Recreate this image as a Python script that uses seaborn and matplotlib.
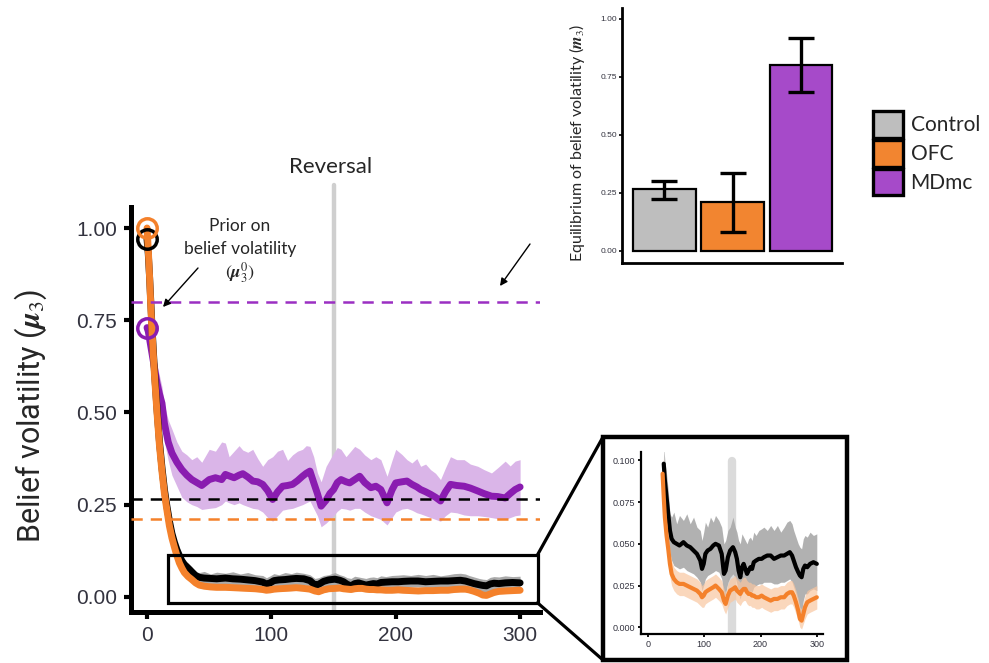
import numpy as np
import pandas as pd
import matplotlib
matplotlib.use("Agg")
import matplotlib.pyplot as plt
import seaborn as sns
from matplotlib.patches import Rectangle, Patch, ConnectionPatch

# ---------------- data ----------------
trials_cb = [0, 1, 2, 3, 4, 5, 6, 8, 10, 12,
             14, 16, 18, 20, 22, 24, 26, 28, 30, 33,
             36, 39, 42, 46, 51, 56, 63, 69, 75, 81,
             87, 93, 96, 99, 102, 106, 111, 116, 120, 126,
             131, 135, 138, 142, 146, 151, 155, 158, 161, 164,
             167, 170, 173, 176, 179, 182, 185, 188, 192, 197,
             202, 206, 212, 218, 224, 230, 236, 242, 247, 252,
             256, 259, 263, 267, 270, 273, 276, 279, 283, 288,
             294, 300]

control_mean = [0.970, 0.930, 0.870, 0.800, 0.730, 0.670, 0.610, 0.510, 0.420, 0.350,
                0.290, 0.245, 0.205, 0.172, 0.148, 0.128, 0.112, 0.098, 0.088, 0.078,
                0.068, 0.058, 0.053, 0.051, 0.050, 0.049, 0.051, 0.049, 0.048, 0.046,
                0.044, 0.040, 0.035, 0.038, 0.044, 0.046, 0.047, 0.049, 0.050, 0.049,
                0.044, 0.032, 0.034, 0.042, 0.046, 0.048, 0.045, 0.041, 0.034, 0.030,
                0.036, 0.038, 0.035, 0.032, 0.034, 0.036, 0.035, 0.039, 0.040, 0.041,
                0.041, 0.042, 0.043, 0.043, 0.041, 0.042, 0.043, 0.043, 0.044, 0.045,
                0.043, 0.040, 0.036, 0.033, 0.031, 0.030, 0.035, 0.037, 0.036, 0.038,
                0.039, 0.038]
control_hi = [0.975, 0.940, 0.880, 0.810, 0.740, 0.680, 0.620, 0.520, 0.430, 0.360,
              0.300, 0.255, 0.215, 0.182, 0.158, 0.138, 0.122, 0.108, 0.100, 0.092,
              0.082, 0.068, 0.066, 0.069, 0.062, 0.067, 0.064, 0.068, 0.062, 0.066,
              0.060, 0.058, 0.052, 0.057, 0.063, 0.060, 0.066, 0.063, 0.067, 0.064,
              0.060, 0.050, 0.052, 0.058, 0.060, 0.066, 0.060, 0.057, 0.052, 0.050,
              0.056, 0.054, 0.052, 0.050, 0.053, 0.054, 0.052, 0.057, 0.055, 0.058,
              0.059, 0.060, 0.058, 0.061, 0.058, 0.061, 0.057, 0.060, 0.063, 0.064,
              0.062, 0.058, 0.054, 0.050, 0.048, 0.047, 0.053, 0.055, 0.054, 0.057,
              0.055, 0.056]
control_lo = [0.965, 0.920, 0.860, 0.790, 0.720, 0.660, 0.600, 0.500, 0.410, 0.340,
              0.280, 0.235, 0.195, 0.162, 0.138, 0.118, 0.100, 0.086, 0.074, 0.062,
              0.052, 0.044, 0.040, 0.037, 0.036, 0.035, 0.036, 0.034, 0.033, 0.032,
              0.030, 0.027, 0.022, 0.025, 0.029, 0.031, 0.032, 0.033, 0.034, 0.033,
              0.029, 0.018, 0.020, 0.027, 0.030, 0.032, 0.030, 0.026, 0.020, 0.017,
              0.022, 0.024, 0.021, 0.019, 0.020, 0.022, 0.021, 0.024, 0.025, 0.026,
              0.026, 0.027, 0.027, 0.027, 0.026, 0.026, 0.027, 0.027, 0.028, 0.029,
              0.027, 0.024, 0.020, 0.015, 0.010, 0.008, 0.016, 0.020, 0.020, 0.022,
              0.023, 0.022]

ofc_mean = [1.000, 0.940, 0.870, 0.790, 0.720, 0.660, 0.600, 0.500, 0.410, 0.340,
            0.280, 0.235, 0.192, 0.160, 0.135, 0.112, 0.092, 0.078, 0.066, 0.055,
            0.047, 0.038, 0.032, 0.029, 0.027, 0.026, 0.026, 0.025, 0.024, 0.023,
            0.022, 0.020, 0.018, 0.019, 0.021, 0.022, 0.023, 0.024, 0.025, 0.023,
            0.021, 0.016, 0.014, 0.019, 0.022, 0.023, 0.024, 0.022, 0.021, 0.020,
            0.022, 0.023, 0.023, 0.021, 0.020, 0.020, 0.019, 0.019, 0.018, 0.018,
            0.019, 0.018, 0.017, 0.016, 0.017, 0.017, 0.018, 0.018, 0.020, 0.021,
            0.021, 0.019, 0.015, 0.010, 0.005, 0.004, 0.008, 0.012, 0.015, 0.016,
            0.017, 0.018]
ofc_hi = [1.005, 0.950, 0.880, 0.800, 0.730, 0.670, 0.610, 0.510, 0.420, 0.350,
          0.290, 0.245, 0.202, 0.170, 0.145, 0.122, 0.102, 0.088, 0.076, 0.064,
          0.055, 0.046, 0.040, 0.036, 0.034, 0.033, 0.033, 0.032, 0.031, 0.030,
          0.029, 0.027, 0.025, 0.026, 0.028, 0.029, 0.030, 0.031, 0.032, 0.030,
          0.028, 0.023, 0.021, 0.026, 0.029, 0.030, 0.031, 0.029, 0.028, 0.027,
          0.029, 0.030, 0.030, 0.028, 0.027, 0.027, 0.026, 0.026, 0.025, 0.025,
          0.026, 0.025, 0.024, 0.023, 0.024, 0.024, 0.025, 0.025, 0.027, 0.028,
          0.028, 0.026, 0.022, 0.017, 0.012, 0.011, 0.015, 0.019, 0.022, 0.023,
          0.024, 0.025]
ofc_lo = [0.995, 0.930, 0.860, 0.780, 0.710, 0.650, 0.590, 0.490, 0.400, 0.330,
          0.270, 0.225, 0.182, 0.150, 0.125, 0.102, 0.082, 0.068, 0.056, 0.046,
          0.039, 0.030, 0.025, 0.022, 0.020, 0.019, 0.019, 0.018, 0.017, 0.016,
          0.015, 0.013, 0.012, 0.012, 0.014, 0.015, 0.016, 0.017, 0.018, 0.016,
          0.014, 0.010, 0.008, 0.012, 0.015, 0.016, 0.017, 0.015, 0.014, 0.013,
          0.015, 0.016, 0.016, 0.014, 0.013, 0.013, 0.012, 0.012, 0.011, 0.011,
          0.012, 0.011, 0.010, 0.009, 0.010, 0.010, 0.011, 0.011, 0.013, 0.014,
          0.014, 0.012, 0.008, 0.004, 0.000, -0.001, 0.002, 0.005, 0.008, 0.009,
          0.010, 0.011]

trials_md = [0, 1, 2, 4, 6, 8, 10, 12, 14, 17,
             20, 24, 28, 32, 36, 40, 44, 50, 55, 60,
             63, 66, 70, 74, 77, 81, 85, 89, 93, 97,
             101, 105, 109, 113, 117, 121, 125, 128, 131, 134,
             137, 140, 144, 147, 150, 153, 156, 160, 163, 167,
             171, 175, 180, 184, 188, 193, 197, 200, 205, 209,
             213, 217, 220, 224, 228, 232, 236, 240, 244, 249,
             255, 260, 266, 271, 277, 282, 288, 292, 296, 300]
mdmc_mean = [0.730, 0.720, 0.700, 0.660, 0.620, 0.580, 0.550, 0.525, 0.470, 0.420,
             0.390, 0.365, 0.345, 0.330, 0.318, 0.310, 0.302, 0.318, 0.323, 0.318,
             0.332, 0.328, 0.323, 0.330, 0.334, 0.325, 0.314, 0.312, 0.305, 0.288,
             0.264, 0.285, 0.300, 0.302, 0.305, 0.315, 0.327, 0.335, 0.341, 0.310,
             0.280, 0.246, 0.262, 0.280, 0.291, 0.310, 0.318, 0.312, 0.309, 0.318,
             0.327, 0.310, 0.296, 0.300, 0.291, 0.255, 0.290, 0.309, 0.312, 0.314,
             0.305, 0.298, 0.291, 0.285, 0.278, 0.270, 0.260, 0.285, 0.305, 0.302,
             0.300, 0.295, 0.287, 0.280, 0.273, 0.272, 0.268, 0.280, 0.291, 0.298]
mdmc_hi = [0.740, 0.735, 0.720, 0.690, 0.660, 0.630, 0.600, 0.570, 0.520, 0.480,
           0.455, 0.420, 0.395, 0.385, 0.372, 0.380, 0.365, 0.400, 0.395, 0.420,
           0.417, 0.380, 0.395, 0.410, 0.398, 0.392, 0.400, 0.375, 0.354, 0.372,
           0.380, 0.395, 0.400, 0.370, 0.385, 0.395, 0.400, 0.410, 0.408, 0.380,
           0.336, 0.312, 0.354, 0.372, 0.390, 0.405, 0.400, 0.380, 0.392, 0.408,
           0.400, 0.385, 0.372, 0.380, 0.372, 0.327, 0.370, 0.400, 0.386, 0.372,
           0.363, 0.375, 0.354, 0.360, 0.345, 0.335, 0.318, 0.350, 0.380, 0.372,
           0.372, 0.360, 0.354, 0.345, 0.336, 0.350, 0.368, 0.355, 0.368, 0.372]
mdmc_lo = [0.720, 0.705, 0.680, 0.630, 0.580, 0.530, 0.500, 0.470, 0.420, 0.370,
           0.330, 0.300, 0.270, 0.258, 0.250, 0.245, 0.237, 0.240, 0.242, 0.250,
           0.260, 0.255, 0.250, 0.255, 0.250, 0.245, 0.240, 0.238, 0.230, 0.215,
           0.205, 0.220, 0.235, 0.238, 0.240, 0.245, 0.250, 0.255, 0.260, 0.240,
           0.220, 0.190, 0.200, 0.210, 0.220, 0.232, 0.240, 0.238, 0.235, 0.240,
           0.240, 0.230, 0.220, 0.215, 0.210, 0.195, 0.215, 0.230, 0.238, 0.240,
           0.235, 0.228, 0.225, 0.220, 0.215, 0.210, 0.205, 0.220, 0.230, 0.228,
           0.222, 0.220, 0.220, 0.218, 0.215, 0.212, 0.210, 0.215, 0.220, 0.222]

groups = ["Control", "OFC", "MDmc"]
equilibrium = [0.265, 0.210, 0.800]
eq_err_lo = [0.222, 0.082, 0.685]
eq_err_hi = [0.303, 0.335, 0.918]
reversal_trial = 150

main_yticks = [0.0, 0.25, 0.50, 0.75, 1.00]
main_xticks = [0, 100, 200, 300]
inset_yticks = [0.0, 0.025, 0.050, 0.075, 0.100]
inset_xticks = [0, 100, 200, 300]
bar_yticks = [0.0, 0.25, 0.50, 0.75, 1.00]

# ---------------- style ----------------
sns.set_style("white")
plt.rcParams["font.family"] = ["Lato", "DejaVu Sans"]
plt.rcParams["mathtext.fontset"] = "stix"

C_BLACK = "#000000"
C_ORANGE = "#F4812B"
C_PURPLE = "#8A1CB0"
C_PURPLE_BAND = "#DAB5E8"
C_GRAY_BAND = "#A9A9A9"
C_ORANGE_BAND = "#F9C6A0"
bar_colors = ["#BEBEBE", "#F28530", "#A64AC9"]
dash_colors = [C_BLACK, "#F4812B", "#9B2FC2"]
TICK_FONT = ["Liberation Sans Narrow", "Liberation Sans", "DejaVu Sans"]
TICK_COLOR = "#33333F"

W, H = 989, 663
fig = plt.figure(figsize=(W / 100, H / 100), dpi=100)


def fx(px):
    return px / W


def fy(py):
    return 1 - py / H


cb = pd.DataFrame({"trial": trials_cb, "control": control_mean, "control_hi": control_hi,
                   "control_lo": control_lo, "ofc": ofc_mean, "ofc_hi": ofc_hi, "ofc_lo": ofc_lo})
md = pd.DataFrame({"trial": trials_md, "mdmc": mdmc_mean, "hi": mdmc_hi, "lo": mdmc_lo})

# ---------------- main axes ----------------
ax = fig.add_axes([fx(131), fy(612), fx(540) - fx(131), fy(207) - fy(612)])
ax.set_xlim(-12.9, 316)
ax.set_ylim(-0.041, 1.057)

ax.axvline(reversal_trial, ymin=0, ymax=1.055, color="#CFCFCF", lw=3.2, clip_on=False, zorder=1)

ax.fill_between(md["trial"], md["lo"], md["hi"], color=C_PURPLE_BAND, lw=0, zorder=2)
sns.lineplot(data=md, x="trial", y="mdmc", ax=ax, color=C_PURPLE, lw=5, estimator=None,
             sort=False, zorder=3)
ax.fill_between(cb["trial"], cb["control_lo"], cb["control_hi"], color=C_GRAY_BAND, lw=0, zorder=4)
sns.lineplot(data=cb, x="trial", y="control", ax=ax, color=C_BLACK, lw=5, estimator=None,
             sort=False, zorder=5)
ax.fill_between(cb["trial"], cb["ofc_lo"], cb["ofc_hi"], color=C_ORANGE_BAND, lw=0, zorder=6)
sns.lineplot(data=cb, x="trial", y="ofc", ax=ax, color=C_ORANGE, lw=5, estimator=None,
             sort=False, zorder=7)

ax.plot(trials_md[0], mdmc_mean[0], "o", mfc="none", mec=C_PURPLE, ms=14, mew=2.5, zorder=8, clip_on=False)
ax.plot(trials_cb[0], control_mean[0], "o", mfc="none", mec=C_BLACK, ms=14, mew=2.5, zorder=8, clip_on=False)
ax.plot(trials_cb[0], ofc_mean[0], "o", mfc="none", mec=C_ORANGE, ms=14, mew=2.5, zorder=9, clip_on=False)

for val, col in zip(equilibrium, dash_colors):
    ax.axhline(val, color=col, lw=1.8, dashes=(4.5, 3.2), zorder=10)

zoom_x0, zoom_x1, zoom_y0, zoom_y1 = 17, 314, -0.016, 0.114
ax.add_patch(Rectangle((zoom_x0, zoom_y0), zoom_x1 - zoom_x0, zoom_y1 - zoom_y0, fill=False,
                       ec="black", lw=2.3, zorder=11, clip_on=False))

for s in ["top", "right"]:
    ax.spines[s].set_visible(False)
for s in ["left", "bottom"]:
    ax.spines[s].set_linewidth(3.6)
    ax.spines[s].set_color("black")
ax.set_xticks(main_xticks)
ax.set_yticks(main_yticks)
ax.set_xticklabels([str(v) for v in main_xticks])
ax.set_yticklabels([f"{v:.2f}" for v in main_yticks])
ax.tick_params(axis="both", length=5, width=3, color="black", labelsize=15, labelcolor=TICK_COLOR,
               direction="out", pad=5, bottom=True, left=True)
for lbl in ax.get_xticklabels() + ax.get_yticklabels():
    lbl.set_fontfamily(TICK_FONT)
ax.set_xlabel("")
ax.set_ylabel("")

fig.text(fx(31), fy(416), r"Belief volatility ($\boldsymbol{\mu}_3$)", rotation=90,
         ha="center", va="center", fontsize=22, family=["Roboto", "DejaVu Sans"])
fig.text(fx(331), fy(167), "Reversal", ha="center", va="center", fontsize=16)
fig.text(fx(240), fy(226), "Prior on", ha="center", va="center", fontsize=12.5)
fig.text(fx(240), fy(249), "belief volatility", ha="center", va="center", fontsize=12.5)
fig.text(fx(240), fy(273), r"$(\boldsymbol{\mu}_3^0)$", ha="center", va="center", fontsize=13)

arrow_kw = dict(arrowstyle="-|>", color="black", lw=1.0, mutation_scale=11, shrinkA=0, shrinkB=0)
fig.add_artist(ConnectionPatch(xyA=(fx(198), fy(268)), coordsA=fig.transFigure,
                               xyB=(fx(163), fy(307)), coordsB=fig.transFigure, **arrow_kw))
fig.add_artist(ConnectionPatch(xyA=(fx(530), fy(244)), coordsA=fig.transFigure,
                               xyB=(fx(500), fy(286)), coordsB=fig.transFigure, **arrow_kw))

# ---------------- inset ----------------
ax_in = fig.add_axes([fx(641), fy(634), fx(823) - fx(641), fy(452) - fy(634)])
ax_in.set_xlim(-12.4, 311)
ax_in.set_ylim(-0.004, 0.105)
cb_in = cb[cb["control"] <= 0.1]
ofc_in = cb[cb["ofc"] <= 0.1]
ax_in.axvline(reversal_trial, ymin=0, ymax=0.95, color="#CFCFCF", lw=6, alpha=0.75, zorder=1)
ax_in.fill_between(cb_in["trial"], cb_in["control_lo"], cb_in["control_hi"], color=C_GRAY_BAND,
                   lw=0, alpha=0.9, zorder=2)
ax_in.fill_between(ofc_in["trial"], ofc_in["ofc_lo"], ofc_in["ofc_hi"], color=C_ORANGE_BAND,
                   lw=0, alpha=0.7, zorder=3)
sns.lineplot(data=cb_in, x="trial", y="control", ax=ax_in, color=C_BLACK, lw=3, estimator=None,
             sort=False, zorder=4)
sns.lineplot(data=ofc_in, x="trial", y="ofc", ax=ax_in, color=C_ORANGE, lw=3, estimator=None,
             sort=False, zorder=5)
for s in ["top", "right"]:
    ax_in.spines[s].set_visible(False)
for s in ["left", "bottom"]:
    ax_in.spines[s].set_linewidth(1.6)
    ax_in.spines[s].set_color("black")
ax_in.set_xticks(inset_xticks)
ax_in.set_yticks(inset_yticks)
ax_in.set_xticklabels([str(v) for v in inset_xticks])
ax_in.set_yticklabels([f"{v:.3f}" for v in inset_yticks])
ax_in.tick_params(axis="both", length=2.5, width=1.3, color="black", labelsize=6.5,
                  labelcolor=TICK_COLOR, pad=2, bottom=True, left=True)
for lbl in ax_in.get_xticklabels() + ax_in.get_yticklabels():
    lbl.set_fontfamily(TICK_FONT)
ax_in.set_xlabel("")
ax_in.set_ylabel("")

fig.add_artist(Rectangle((fx(603), fy(660)), fx(847) - fx(603), fy(437) - fy(660), fill=False,
                         ec="black", lw=3.2, transform=fig.transFigure))
fig.add_artist(ConnectionPatch(xyA=(zoom_x1, zoom_y1), coordsA=ax.transData,
                               xyB=(fx(603), fy(437)), coordsB=fig.transFigure, lw=2.3, color="black"))
fig.add_artist(ConnectionPatch(xyA=(zoom_x1, zoom_y0), coordsA=ax.transData,
                               xyB=(fx(603), fy(660)), coordsB=fig.transFigure, lw=2.3, color="black"))

# ---------------- bar chart ----------------
ax_b = fig.add_axes([fx(622), fy(263), fx(842) - fx(622), fy(8) - fy(263)])
bars = pd.DataFrame({"group": groups, "eq": equilibrium})
sns.barplot(data=bars, x="group", y="eq", hue="group", order=groups, hue_order=groups,
            palette=bar_colors, saturation=1, width=0.92, edgecolor="black", linewidth=1.6,
            errorbar=None, legend=False, ax=ax_b)
eq = np.array(equilibrium)
ax_b.errorbar(x=np.arange(len(groups)), y=eq,
              yerr=[eq - np.array(eq_err_lo), np.array(eq_err_hi) - eq],
              fmt="none", ecolor="black", elinewidth=2.4, capsize=9.5, capthick=2.4, zorder=5)
ax_b.set_xlim(-0.62, 2.6)
ax_b.set_ylim(-0.052, 1.047)
ax_b.set_xticks([])
ax_b.set_yticks(bar_yticks)
ax_b.set_yticklabels([f"{v:.2f}" for v in bar_yticks])
ax_b.tick_params(axis="y", length=2, width=1.2, color="black", labelsize=6, labelcolor=TICK_COLOR,
                 pad=1.5, left=True)
for lbl in ax_b.get_yticklabels():
    lbl.set_fontfamily(TICK_FONT)
for s in ["top", "right"]:
    ax_b.spines[s].set_visible(False)
for s in ["left", "bottom"]:
    ax_b.spines[s].set_linewidth(2.0)
    ax_b.spines[s].set_color("black")
ax_b.set_xlabel("")
ax_b.set_ylabel("")
fig.text(fx(577), fy(143), r"Equilibrium of belief volatility ($\boldsymbol{m}_3$)", rotation=90,
         ha="center", va="center", fontsize=11.5)

handles = [Patch(facecolor=c, edgecolor="black", lw=2.4) for c in bar_colors]
fig.legend(handles, groups, loc="upper left", bbox_to_anchor=(fx(873), fy(111)), frameon=False,
           fontsize=15, handlelength=1.45, handleheight=1.6, labelspacing=0.1, handletextpad=0.35,
           borderpad=0, borderaxespad=0)

fig.savefig("out.png", dpi=100)
